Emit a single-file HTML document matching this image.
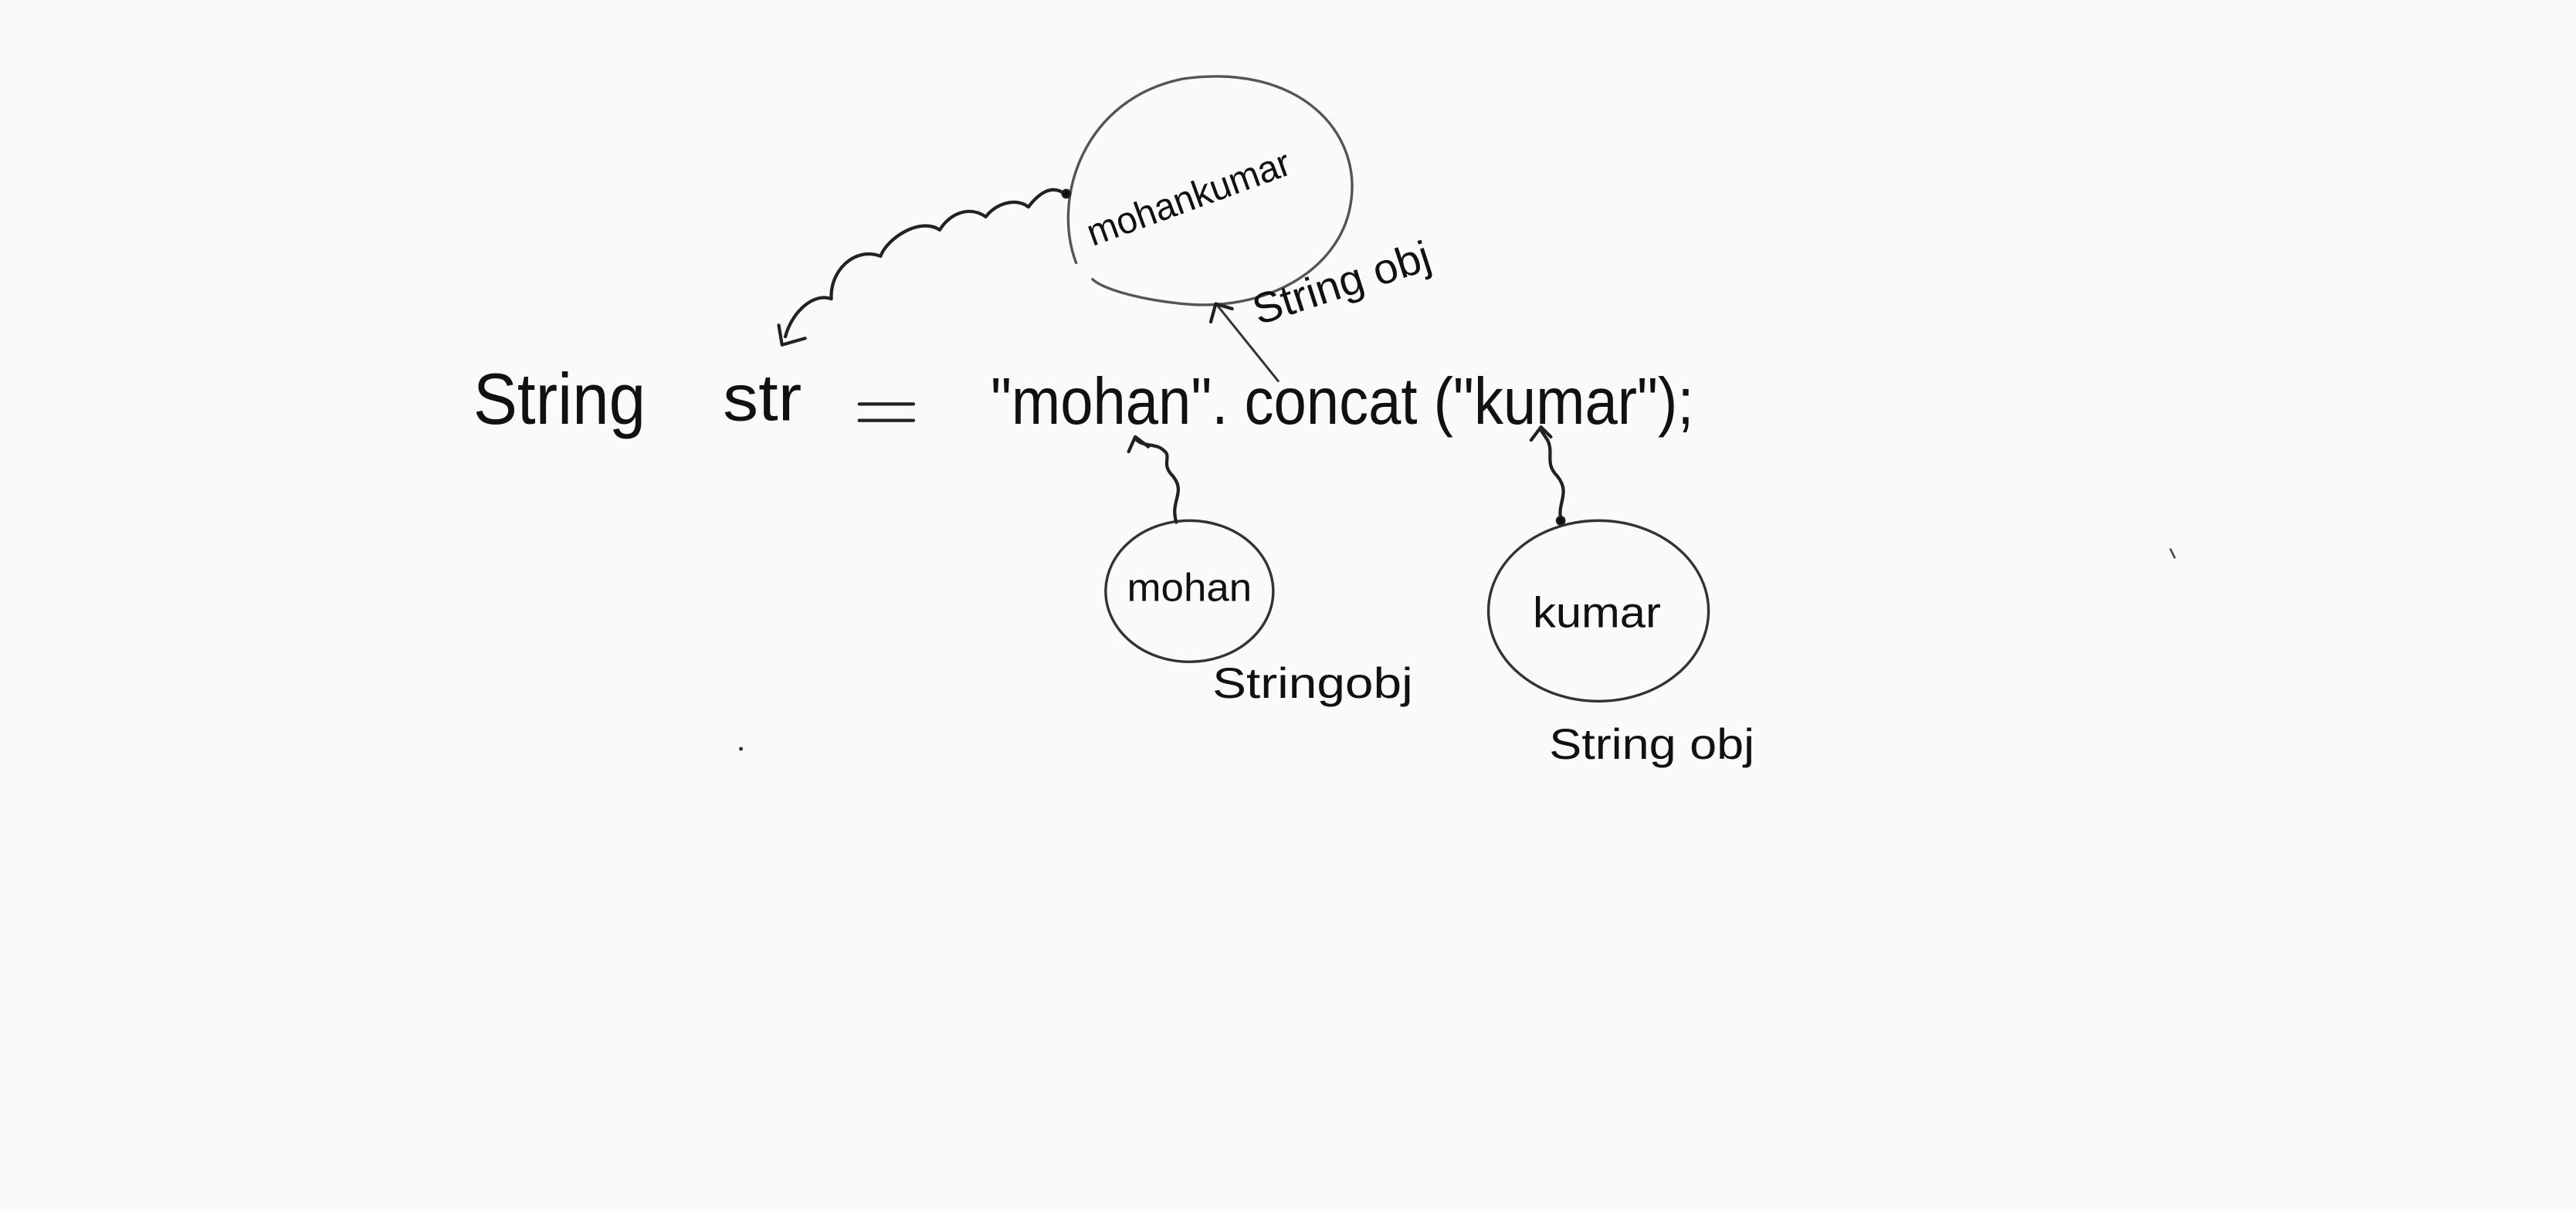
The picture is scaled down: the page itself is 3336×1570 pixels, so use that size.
<!DOCTYPE html>
<html><head><meta charset="utf-8"><style>
html,body{margin:0;padding:0;background:#fafafa;}
svg{display:block;}
text{font-family:"Liberation Sans",sans-serif;fill:#111;}
</style></head><body>
<svg width="3336" height="1570" viewBox="0 0 1568 738" xmlns="http://www.w3.org/2000/svg">
<rect width="1568" height="738" fill="#fafafa"/>
<g fill="none" stroke="#222" stroke-linecap="round" stroke-linejoin="round">
<path d="M655 160 C640 120 660 60 720 48 C790 38 830 80 822 125 C815 165 770 190 720 185 C690 182 670 175 665 170" stroke="#555" stroke-width="1.6"/>
<path d="M648 118 C640 112 632 118 626 126 C618 120 606 124 600 132 C590 125 578 130 572 140 C560 132 540 145 536 156 C520 150 505 165 506 182 C495 178 482 190 478 205" stroke-width="2"/>
<path d="M474 198 L476 210 L490 206" stroke-width="2"/>
<circle cx="649" cy="118" r="2.5" fill="#111"/>
<path d="M778 232 L741 186" stroke="#333" stroke-width="1.4"/>
<path d="M737 196 L740 185 L750 188" stroke-width="2"/>
<ellipse cx="724" cy="360" rx="51" ry="43" stroke="#333" stroke-width="1.6"/>
<path d="M716 318 C712 305 722 300 714 290 C706 282 714 278 708 274 C704 270 696 272 692 268" stroke-width="2"/>
<path d="M687 275 L691 266 L699 272" stroke-width="2"/>
<ellipse cx="973" cy="372" rx="67" ry="55" stroke="#333" stroke-width="1.6"/>
<path d="M950 316 C948 306 956 300 948 290 C940 282 946 276 942 268 L938 262" stroke-width="2"/>
<path d="M932 268 L938 260 L944 266" stroke-width="2"/>
<circle cx="950" cy="317" r="2.5" fill="#111"/>
<path d="M523 246 L556 246 M523 256 L556 256" stroke-width="2"/>
</g>
<text x="288" y="258" font-size="44" textLength="105" lengthAdjust="spacingAndGlyphs">String</text>
<text x="440" y="256" font-size="40" textLength="48" lengthAdjust="spacingAndGlyphs">str</text>
<text x="603" y="258" font-size="40" textLength="428" lengthAdjust="spacingAndGlyphs">"mohan". concat ("kumar");</text>
<text x="0" y="0" font-size="23" transform="translate(665 150) rotate(-20)" textLength="130" lengthAdjust="spacingAndGlyphs">mohankumar</text>
<text x="0" y="0" font-size="26" transform="translate(766 198) rotate(-18)" textLength="112" lengthAdjust="spacingAndGlyphs">String obj</text>
<text x="686" y="366" font-size="24" textLength="76" lengthAdjust="spacingAndGlyphs">mohan</text>
<text x="933" y="382" font-size="26" textLength="78" lengthAdjust="spacingAndGlyphs">kumar</text>
<text x="738" y="425" font-size="26" textLength="122" lengthAdjust="spacingAndGlyphs">Stringobj</text>
<text x="943" y="462" font-size="26" textLength="125" lengthAdjust="spacingAndGlyphs">String obj</text>
<circle cx="451" cy="456" r="1.2" fill="#333"/>
<path d="M1321 334 L1324 340" stroke="#444" stroke-width="1.2"/>
</svg>
</body></html>
